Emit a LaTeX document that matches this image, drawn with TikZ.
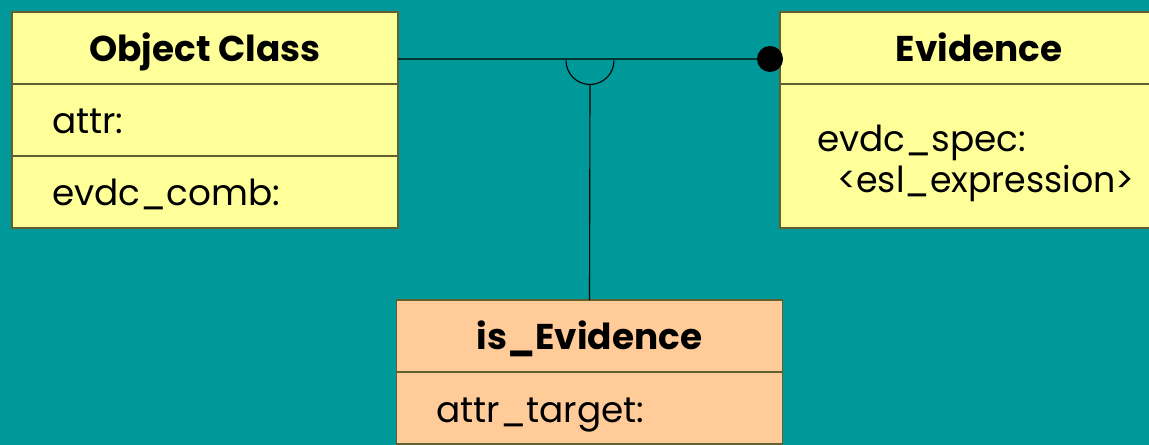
\documentclass[tikz,border=0pt]{standalone}
\usepackage{fontspec}
\setmainfont{Poppins}
\usetikzlibrary{positioning}

\definecolor{teal bg}{RGB}{0,153,153}
\definecolor{classfill}{RGB}{255,255,153}
\definecolor{linkfill}{RGB}{255,204,153}
\definecolor{edge}{RGB}{96,96,48}

\tikzset{
  cell/.style={rectangle, draw=edge, line width=0.8pt, inner sep=0pt, outer sep=0pt,
    minimum width=9.65cm, minimum height=1.8cm, text height=0.75cm, text depth=0.05cm,
    font=\fontsize{25.5}{29}\selectfont},
  title/.style={cell, font=\fontsize{25.5}{29}\selectfont\bfseries},
  field/.style={cell, text width=7.65cm, inner xsep=1cm, align=left},
}

\begin{document}
\begin{tikzpicture}
\fill[teal bg] (0,0) rectangle (28.725,-11.125);
\useasboundingbox (0,0) rectangle (28.725,-11.125);

% object class
\node[title, fill=classfill] (octitle) at (5.125,-1.2) {Object Class};
\node[field, fill=classfill, below=0pt of octitle] (ocattr) {attr:};
\node[field, fill=classfill, below=0pt of ocattr] (occomb) {evdc\_comb:};

% evidence (runs off the right side)
\node[title, fill=classfill, minimum width=9.95cm] (evtitle) at (24.475,-1.2) {Evidence};
\node[field, fill=classfill, minimum width=9.95cm, minimum height=3.6cm, inner xsep=0.925cm,
  text width=8.1cm, text height=0.6cm, text depth=0.8cm,
  below=0pt of evtitle] (evspec) {evdc\_spec:\\\hspace*{0.5cm}\addfontfeature{FakeStretch=0.97}<esl\_expression>};

% link class
\node[title, fill=linkfill] (istitle) at (14.7375,-8.4) {is\_Evidence};
\node[field, fill=linkfill, below=0pt of istitle] (istarget) {attr\_target:};

% association with the link hook
\node[circle, fill=black, inner sep=0pt, minimum size=0.65cm] (knob) at (19.25,-1.475) {};
\coordinate (hook) at (14.75,-1.5125);
\draw[line width=0.8pt] ([yshift=-0.275cm]octitle.east) -- (knob.center);
\draw[line width=0.8pt] ([xshift=-0.6cm]hook) arc[start angle=180, end angle=360, radius=0.6cm];
\draw[line width=0.8pt] ([yshift=-0.6cm]hook) -- (istitle.north);
\end{tikzpicture}
\end{document}
